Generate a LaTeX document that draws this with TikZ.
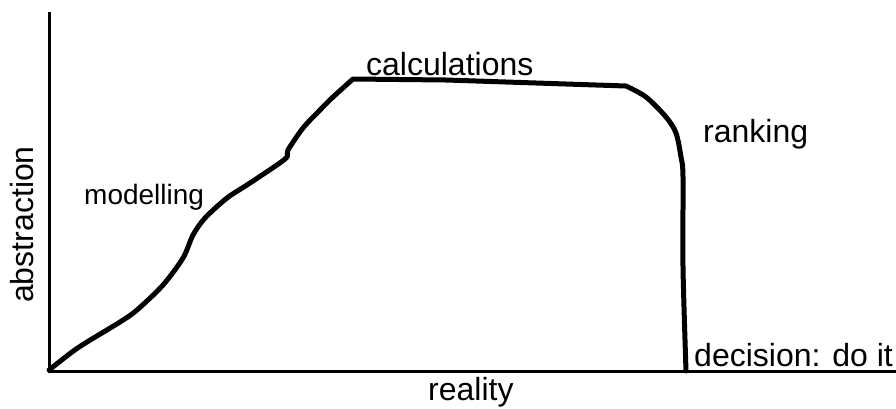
\documentclass[tikz,border=0pt]{standalone}
\usepackage{fontspec}
\setmainfont{Liberation Sans}
\begin{document}
\begin{tikzpicture}[x=1pt,y=-1pt,
  lbl/.style={inner sep=0pt,anchor=base west,font=\fontsize{32}{38}\selectfont},
  axis/.style={line width=3pt},
  curve/.style={line width=5pt,line join=round,line cap=round}]
\useasboundingbox (0,0) rectangle (896,408);
\draw[axis] (49,12) -- (49,372);
\draw[axis] (47.5,371) -- (896,371);
\draw[curve] plot[smooth,tension=0.5] coordinates {(49,370) (72,352) (87,342) (120,322) (137,310) (163,285) (183,258) (193,235) (205,218) (227,198) (250,183) (285,159) (288,150) (303,128) (320,110) (333,97) (353,79)}
  -- (446,80) -- (626,86)
  plot[smooth,tension=0.5] coordinates {(626,86) (646,97) (666,117) (676,133) (681,157) (683,177) (683,267) (686,371)};
\node[lbl] (calc) at (366,75) {calculations};
\node[lbl] (rank) at (703,142) {ranking};
\node[lbl,font=\fontsize{28}{34}\selectfont] (model) at (84,204) {modelling};
\node[lbl] (dec) at (694,366) {decision: do it};
\node[lbl] (real) at (428,400) {reality};
\node[lbl,rotate=90] (abs) at (33,303) {abstraction};
\end{tikzpicture}
\end{document}
